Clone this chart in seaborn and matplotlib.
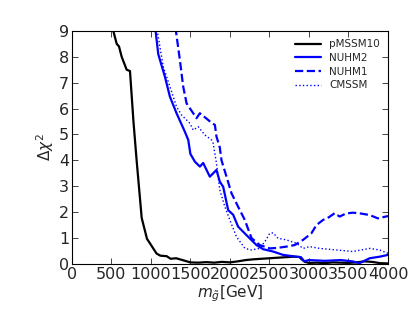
import numpy as np
import pandas as pd
import matplotlib
matplotlib.use("Agg")
import matplotlib.pyplot as plt
import seaborn as sns

# gluino mass profiles
pmssm10_x = [500, 525, 568, 597, 631, 694, 736, 780, 820, 884, 951, 988, 1030, 1073, 1120, 1200, 1250, 1320,
             1400, 1500, 1600, 1700, 1800, 1900, 2000, 2100, 2200, 2300, 2400, 2500, 2600, 2700, 2800, 2880,
             2900, 2950, 3000, 3100, 3200, 3300, 3400, 3500, 3600, 3700, 3800, 3900, 4000]
pmssm10_y = [9.6, 9.0, 8.5, 8.4, 8.0, 7.5, 7.45, 5.5, 4.0, 1.78, 0.97, 0.8, 0.6, 0.4, 0.32, 0.3, 0.2, 0.22,
             0.15, 0.06, 0.05, 0.07, 0.05, 0.08, 0.06, 0.1, 0.15, 0.18, 0.2, 0.22, 0.24, 0.26, 0.28, 0.27,
             0.2, 0.08, 0.04, 0.05, 0.03, 0.06, 0.05, 0.04, 0.06, 0.1, 0.08, 0.03, 0.02]

nuhm2_x = [1040, 1060, 1094, 1115, 1178, 1241, 1325, 1431, 1473, 1500, 1557, 1620, 1662, 1746, 1830, 1872,
           1915, 1978, 2041, 2104, 2230, 2336, 2420, 2546, 2672, 2841, 2900, 2940, 3000, 3200, 3400, 3550,
           3640, 3767, 3893, 4000]
nuhm2_y = [9.6, 9.0, 8.1, 7.88, 7.23, 6.46, 5.82, 5.1, 4.79, 4.25, 3.95, 3.76, 3.9, 3.37, 3.63, 3.18,
           2.98, 2.08, 1.9, 1.44, 1.05, 0.73, 0.57, 0.48, 0.35, 0.28, 0.26, 0.1, 0.15, 0.12, 0.15, 0.1,
           0.03, 0.22, 0.28, 0.35]

nuhm1_x = [1300, 1317, 1367, 1409, 1452, 1536, 1578, 1620, 1725, 1768, 1810, 1830, 1872, 1894, 1957, 2020,
           2104, 2188, 2273, 2377, 2504, 2600, 2714, 2820, 2925, 3030, 3094, 3178, 3250, 3325, 3388, 3470,
           3556, 3650, 3767, 3872, 4000]
nuhm1_y = [9.6, 9.0, 7.88, 6.85, 6.2, 5.82, 5.63, 5.82, 5.56, 5.45, 5.37, 4.92, 4.5, 4.0, 3.37, 2.73,
           2.21, 1.7, 1.0, 0.73, 0.6, 0.62, 0.67, 0.73, 0.93, 1.18, 1.5, 1.7, 1.8, 1.96, 1.83, 1.95,
           1.98, 1.95, 1.89, 1.76, 1.85]

cmssm_x = [1060, 1081, 1157, 1241, 1325, 1389, 1494, 1536, 1599, 1683, 1767, 1788, 1830, 1872, 1936, 1999,
           2083, 2190, 2273, 2377, 2450, 2504, 2546, 2609, 2714, 2841, 2925, 3009, 3136, 3346, 3556, 3767,
           3893, 4000]
cmssm_y = [9.6, 9.0, 7.62, 6.85, 6.07, 5.75, 5.43, 5.17, 5.3, 4.98, 4.79, 4.66, 3.89, 2.86, 2.21, 1.7,
           1.05, 0.6, 0.54, 0.6, 0.9, 1.18, 1.2, 0.99, 0.93, 0.8, 0.6, 0.67, 0.6, 0.54, 0.48, 0.6,
           0.54, 0.41]

names = ["pMSSM10", "NUHM2", "NUHM1", "CMSSM"]
colors = ["black", "blue", "blue", "blue"]
styles = ["-", "-", "--", ":"]
widths = [1.6, 1.6, 1.6, 1.0]

sns.set_style("ticks")
plt.rcParams["xtick.direction"] = "in"
plt.rcParams["ytick.direction"] = "in"

fig = plt.figure(figsize=(4.15, 3.12), dpi=100)
ax = fig.add_axes([0.173, 0.154, 0.762, 0.747])

series = [(pmssm10_x, pmssm10_y), (nuhm2_x, nuhm2_y), (nuhm1_x, nuhm1_y), (cmssm_x, cmssm_y)]
for (xs, ys), name, c, ls, lw in zip(series, names, colors, styles, widths):
    df = pd.DataFrame({"m": xs, "chi2": ys})
    sns.lineplot(data=df, x="m", y="chi2", ax=ax, color=c, linestyle=ls, linewidth=lw,
                 label=name, sort=False)

ax.set_xlim(0, 4000)
ax.set_ylim(0, 9)
ax.set_xticks(range(0, 4001, 500))
ax.set_yticks(range(0, 10))
ax.tick_params(labelsize=11.5, top=True, right=True, length=4, width=0.6, pad=2)
for s in ax.spines.values():
    s.set_linewidth(0.8)
    s.set_color("black")
ax.set_xlabel(r"$m_{\tilde{g}}$[GeV]", fontsize=11, labelpad=1)
ax.set_ylabel(r"$\Delta\chi^2$", fontsize=11, labelpad=2)
ax.legend(loc="upper right", frameon=False, fontsize=7.5, handlelength=2.5,
          borderaxespad=0.4, labelspacing=0.35)

fig.savefig("out.png", dpi=100)
